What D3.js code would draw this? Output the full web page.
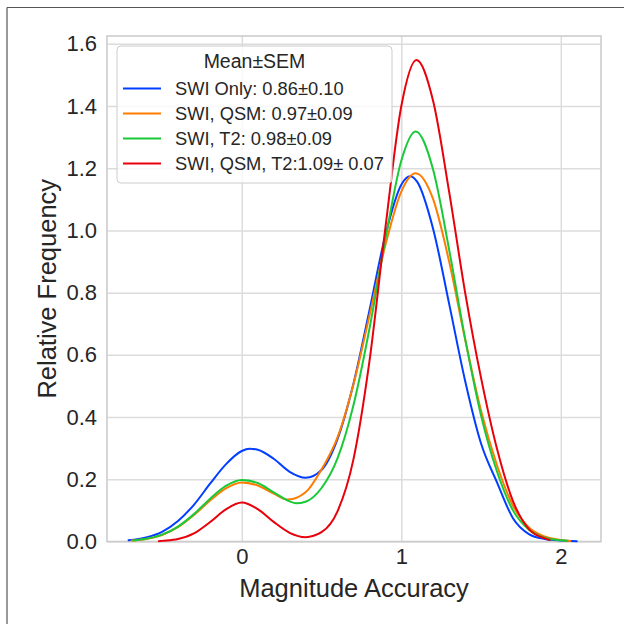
<!DOCTYPE html>
<html>
<head>
<meta charset="utf-8">
<script src="https://cdn.jsdelivr.net/npm/d3@7"></script>
<style>
  html, body { margin: 0; padding: 0; background: #fff; }
  svg { display: block; font-family: "Liberation Sans", Arial, sans-serif; }
  .grid .domain { display: none; }
  .grid line { stroke: #dcdcdc; stroke-width: 1.5; }
  .grid text { fill: #262626; font-size: 22px; }
  .kde { fill: none; stroke-width: 2; stroke-linejoin: round; stroke-linecap: round; }
  .lab { fill: #262626; font-size: 25.5px; }
  .leg text { fill: #262626; font-size: 18.3px; }
</style>
</head>
<body>
<div id="chart"></div>
<script>
// KDE curves (x = magnitude accuracy, y = relative frequency)
const swiOnlyX = [-0.71, -0.6, -0.5, -0.4, -0.3, -0.2, -0.1, 0, 0.05, 0.1, 0.2, 0.3, 0.4, 0.5, 0.6, 0.7, 0.8, 0.9, 1.0, 1.055, 1.1, 1.2, 1.3, 1.4, 1.5, 1.6, 1.7, 1.8, 1.9, 2.0, 2.1];
const swiOnlyY = [0.004, 0.013, 0.031, 0.066, 0.118, 0.185, 0.248, 0.291, 0.298, 0.295, 0.266, 0.224, 0.205, 0.230, 0.329, 0.507, 0.742, 0.984, 1.147, 1.174, 1.156, 1.004, 0.764, 0.517, 0.315, 0.190, 0.075, 0.024, 0.008, 0.003, 0.001];

const swiQsmX = [-0.69, -0.6, -0.5, -0.4, -0.3, -0.2, -0.1, 0, 0.1, 0.2, 0.29, 0.4, 0.5, 0.6, 0.7, 0.8, 0.9, 1.0, 1.09, 1.2, 1.3, 1.4, 1.5, 1.6, 1.7, 1.8, 1.9, 2.0, 2.06];
const swiQsmY = [0.003, 0.008, 0.021, 0.046, 0.085, 0.131, 0.171, 0.190, 0.180, 0.154, 0.135, 0.158, 0.232, 0.335, 0.505, 0.725, 0.952, 1.125, 1.184, 1.100, 0.900, 0.650, 0.420, 0.245, 0.115, 0.045, 0.016, 0.005, 0.002];

const swiT2X = [-0.68, -0.6, -0.5, -0.4, -0.3, -0.2, -0.1, 0, 0.1, 0.2, 0.3, 0.34, 0.4, 0.5, 0.6, 0.7, 0.8, 0.9, 1.0, 1.09, 1.2, 1.3, 1.4, 1.5, 1.6, 1.7, 1.8, 1.9, 2.0, 2.04];
const swiT2Y = [0.003, 0.0085, 0.022, 0.048, 0.088, 0.137, 0.179, 0.198, 0.188, 0.158, 0.129, 0.123, 0.128, 0.172, 0.267, 0.438, 0.683, 0.971, 1.224, 1.318, 1.194, 0.938, 0.653, 0.405, 0.225, 0.100, 0.038, 0.012, 0.004, 0.002];

const swiQsmT2X = [-0.52, -0.5, -0.4, -0.3, -0.2, -0.1, 0, 0.1, 0.2, 0.3, 0.4, 0.5, 0.6, 0.7, 0.8, 0.9, 1.0, 1.095, 1.2, 1.3, 1.4, 1.5, 1.6, 1.7, 1.8, 1.9, 1.93];
const swiQsmT2Y = [0.001, 0.002, 0.008, 0.026, 0.062, 0.103, 0.125, 0.104, 0.063, 0.028, 0.014, 0.030, 0.097, 0.264, 0.578, 1.007, 1.399, 1.548, 1.415, 1.124, 0.801, 0.526, 0.298, 0.130, 0.040, 0.010, 0.005];

const seriesLabels = ["SWI Only: 0.86\u00b10.10", "SWI, QSM: 0.97\u00b10.09", "SWI, T2: 0.98\u00b10.09", "SWI, QSM, T2:1.09\u00b1 0.07"];
const seriesColors = ["#023eff", "#ff7c00", "#1ac938", "#e8000b"];
const legendTitle = "Mean\u00b1SEM";
const xTicks = [0, 1, 2];
const yTicks = [0, 0.2, 0.4, 0.6, 0.8, 1.0, 1.2, 1.4, 1.6];
const xLabel = "Magnitude Accuracy";
const yLabel = "Relative Frequency";

const series = [
  [swiOnlyX, swiOnlyY], [swiQsmX, swiQsmY], [swiT2X, swiT2Y], [swiQsmT2X, swiQsmT2Y]
].map(([xs, ys], i) => ({
  label: seriesLabels[i], color: seriesColors[i],
  pts: xs.map((x, j) => [x, ys[j]])
}));

const W = 624, H = 624;
const m = { top: 36, right: 23, bottom: 82.5, left: 107 };
const svg = d3.select("#chart").append("svg").attr("width", W).attr("height", H);

// figure border (top + left only in the picture)
svg.append("line").attr("x1", 7).attr("x2", W).attr("y1", 7.5).attr("y2", 7.5)
  .attr("stroke", "#555").attr("stroke-width", 1.2);
svg.append("line").attr("x1", 7).attr("x2", 7).attr("y1", 7.5).attr("y2", H)
  .attr("stroke", "#555").attr("stroke-width", 1.2);

const x = d3.scaleLinear([-0.845, 2.252], [m.left, W - m.right]);
const y = d3.scaleLinear([0, 1.625], [H - m.bottom, m.top]);
const iw = W - m.left - m.right, ih = H - m.top - m.bottom;

svg.append("g").attr("class", "grid")
  .attr("transform", `translate(0,${H - m.bottom})`)
  .call(d3.axisBottom(x).tickValues(xTicks).tickFormat(d3.format("d"))
    .tickSize(-ih).tickPadding(7));
svg.append("g").attr("class", "grid")
  .attr("transform", `translate(${m.left},0)`)
  .call(d3.axisLeft(y).tickValues(yTicks).tickFormat(d3.format(".1f"))
    .tickSize(-iw).tickPadding(10));

svg.append("rect").attr("x", m.left).attr("y", m.top)
  .attr("width", iw).attr("height", ih)
  .attr("fill", "none").attr("stroke", "#cccccc").attr("stroke-width", 1.6);

const line = d3.line().x(d => x(d[0])).y(d => y(d[1])).curve(d3.curveMonotoneX);
for (const s of series) {
  svg.append("path").attr("class", "kde").attr("stroke", s.color).attr("d", line(s.pts));
}

svg.append("text").attr("class", "lab").attr("text-anchor", "middle")
  .attr("x", m.left + iw / 2).attr("y", 597).text(xLabel);
svg.append("text").attr("class", "lab").attr("text-anchor", "middle")
  .attr("transform", `translate(56,${m.top + ih / 2}) rotate(-90)`).text(yLabel);

// legend
const leg = svg.append("g").attr("class", "leg");
leg.append("rect").attr("x", 117).attr("y", 46).attr("width", 275).attr("height", 137)
  .attr("rx", 4).attr("fill", "#fff").attr("fill-opacity", 0.8)
  .attr("stroke", "#cccccc").attr("stroke-width", 1);
leg.append("text").attr("x", 254.5).attr("y", 68).attr("text-anchor", "middle")
  .style("font-size", "19.5px").text(legendTitle);
series.forEach((s, i) => {
  const by = 95 + i * 25;
  leg.append("line").attr("x1", 123).attr("x2", 161).attr("y1", by - 6.5).attr("y2", by - 6.5)
    .attr("stroke", s.color).attr("stroke-width", 2);
  leg.append("text").attr("x", 175).attr("y", by).text(s.label);
});
</script>
</body>
</html>
